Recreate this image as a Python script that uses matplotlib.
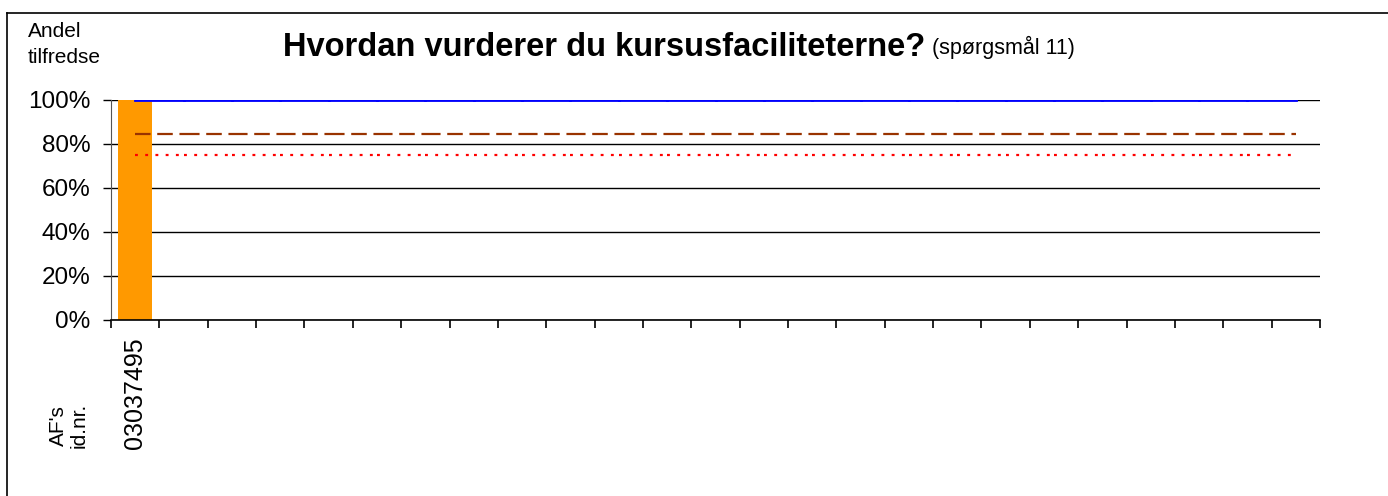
import numpy as np
import matplotlib.pyplot as plt
from matplotlib.lines import Line2D

plt.rcParams['font.family'] = ['Liberation Sans', 'DejaVu Sans']

# Kursus-id'er (kun det første er udfyldt) og andel tilfredse
ids = ['03037495'] + [''] * 24
andel = [100] + [0] * 24
maal_100 = [100] * 25      # blå linje
gennemsnit = [84.5] * 25   # brun stiplet linje
graense = [75] * 25        # rød prikket linje

W, H = 1388, 496
fig = plt.figure(figsize=(W / 100, H / 100), dpi=100)

# ramme om hele diagrammet
fig.add_artist(Line2D([7 / W, 7 / W], [0, 1 - 13 / H], color='black', lw=1.2))
fig.add_artist(Line2D([7 / W, 1], [1 - 13 / H, 1 - 13 / H], color='black', lw=1.2))

ax = fig.add_axes([111 / W, 176 / H, 1209 / W, 220 / H])
x = np.arange(len(ids))

ax.bar(x, andel, width=0.69, color='#FF9900', zorder=2)

# linjerne tegnes stykvis mellem kategorierne, så mønsteret starter forfra
for i in range(len(ids) - 1):
    ax.plot(x[i:i + 2], maal_100[i:i + 2], color='#0000FF', lw=2, zorder=3)
    ax.plot(x[i:i + 2], gennemsnit[i:i + 2], color='#993300', lw=1.6,
            dashes=(7, 3), zorder=3)
    ax.plot(x[i:i + 2], graense[i:i + 2], color='#FF0000', lw=1.6,
            dashes=(1.3, 3.3), zorder=3)

ax.set_xlim(-0.5, len(ids) - 0.5)
ax.set_ylim(0, 100)
ax.set_yticks([0, 20, 40, 60, 80, 100])
ax.set_yticklabels(['0%', '20%', '40%', '60%', '80%', '100%'], fontsize=17.5)
ax.yaxis.grid(True, color='black', lw=1)
ax.set_axisbelow(True)
ax.tick_params(axis='y', direction='out', length=6, width=1, pad=9)

# tickmærker mellem kategorierne, navne under midten
ax.set_xticks(np.arange(len(ids) + 1) - 0.5)
ax.set_xticklabels([])
ax.tick_params(axis='x', direction='out', length=6, width=1.2)
for i, label in enumerate(ids):
    if label:
        ax.text(i, -8, label, rotation=90, ha='center', va='top', fontsize=18)

for side in ['top', 'right']:
    ax.spines[side].set_visible(False)
ax.spines['left'].set_color('#555555')
ax.spines['bottom'].set_linewidth(1.2)

fig.text(28 / W, 1 - 22 / H, 'Andel\ntilfredse', ha='left', va='top',
         fontsize=15, linespacing=1.45)
fig.text(69 / W, 1 - 448 / H, "AF's\nid.nr.", ha='center', va='bottom',
         rotation=90, fontsize=15, linespacing=1.15)

t = fig.text(283 / W, 1 - 47 / H, 'Hvordan vurderer du kursusfaciliteterne?',
             ha='left', va='center', fontsize=23.5, fontweight='bold')
fig.canvas.draw()
bb = t.get_window_extent()
fig.text((bb.x1 + 7) / W, 1 - 47 / H, '(spørgsmål 11)', ha='left', va='center',
         fontsize=15.5)

fig.savefig('out.png', dpi=100)
